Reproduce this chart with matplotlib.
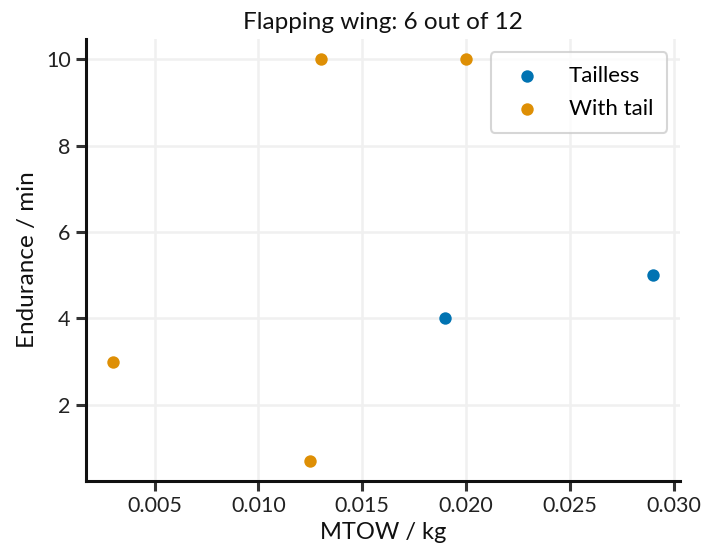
import matplotlib
matplotlib.use("Agg")
import matplotlib.pyplot as plt

# Flapping-wing vehicles: take-off mass vs endurance
tailless_mtow = [0.019, 0.029]
tailless_endurance = [4.0, 5.0]
tail_mtow = [0.003, 0.0125, 0.013, 0.020]
tail_endurance = [3.0, 0.7, 10.0, 10.0]

x_ticks = [0.005, 0.010, 0.015, 0.020, 0.025, 0.030]
y_ticks = [2, 4, 6, 8, 10]

plt.rcParams["font.family"] = ["Lato", "DejaVu Sans"]

fig = plt.figure(figsize=(7.02, 5.55), dpi=100)
ax = fig.add_axes([0.1225, 0.1333, 0.8462, 0.7964])

ax.grid(True, color="#f0f0f0", linewidth=1.8, zorder=0)
ax.set_axisbelow(True)

ax.scatter(tailless_mtow, tailless_endurance, s=80, color="#0173b2",
           label="Tailless", zorder=3, linewidths=0)
ax.scatter(tail_mtow, tail_endurance, s=80, color="#de8f05",
           label="With tail", zorder=3, linewidths=0)

ax.set_xticks(x_ticks)
ax.set_xticklabels([f"{v:.3f}" for v in x_ticks])
ax.set_yticks(y_ticks)
ax.set_yticklabels([str(v) for v in y_ticks])

for side in ("top", "right"):
    ax.spines[side].set_visible(False)
for side in ("left", "bottom"):
    ax.spines[side].set_linewidth(2.2)
    ax.spines[side].set_color("#111111")

ax.tick_params(axis="both", which="major", length=7, width=2.2,
               color="#333333", labelsize=15.5, labelcolor="#222222", pad=4)

ax.set_xlabel("MTOW / kg", fontsize=17, color="#111111", labelpad=4)
ax.set_ylabel("Endurance / min", fontsize=17.5, color="#111111", labelpad=6)
ax.set_title("Flapping wing: 6 out of 12", fontsize=17.5, color="#111111", pad=7)

leg = ax.legend(loc="upper right", fontsize=16, frameon=True,
                markerscale=1.0, handletextpad=0.9, borderpad=0.62,
                labelspacing=0.58, borderaxespad=0.0,
                bbox_to_anchor=(0.978, 0.97))
leg.get_frame().set_edgecolor("#cccccc")
leg.get_frame().set_linewidth(1.5)

fig.savefig("out.png", dpi=100)
